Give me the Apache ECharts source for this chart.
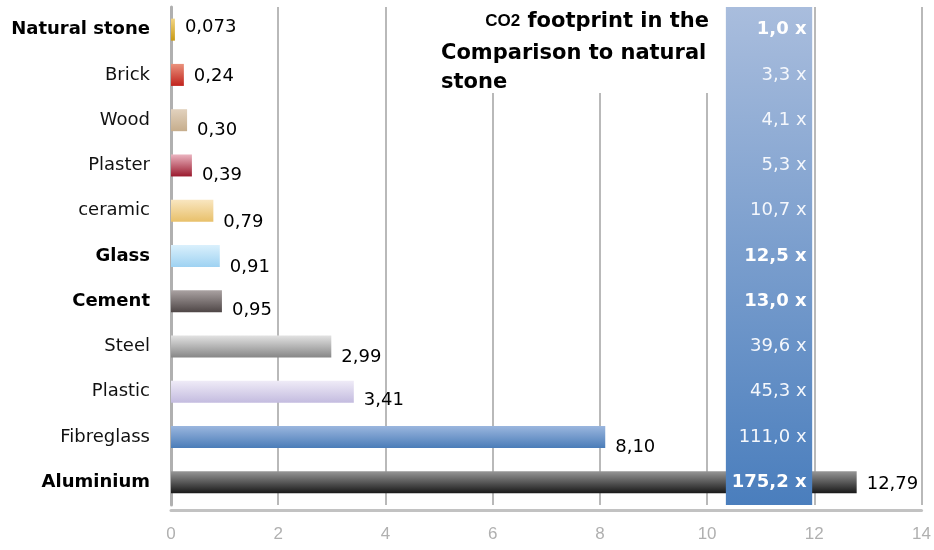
<!DOCTYPE html>
<html>
<head>
<meta charset="utf-8">
<script src="https://cdn.jsdelivr.net/npm/echarts@6/dist/echarts.min.js"></script>
<style>
  html, body { margin: 0; padding: 0; background: #fff; }
  #main { width: 934px; height: 550px; }
</style>
</head>
<body>
<div id="main"></div>
<script>
// data (kg CO2 per kg, top to bottom)
var materials = ['Natural stone', 'Brick', 'Wood', 'Plaster', 'ceramic', 'Glass', 'Cement', 'Steel', 'Plastic', 'Fibreglass', 'Aluminium'];
var footprint = [0.073, 0.24, 0.30, 0.39, 0.79, 0.91, 0.95, 2.99, 3.41, 8.10, 12.79];
var ratioLabels = ['1,0 x', '3,3 x', '4,1 x', '5,3 x', '10,7 x', '12,5 x', '13,0 x', '39,6 x', '45,3 x', '111,0 x', '175,2 x'];
var boldRows = ['Natural stone', 'Glass', 'Cement', 'Aluminium'];
var xTicks = [0, 2, 4, 6, 8, 10, 12, 14];

// styling per bar: [top colour, bottom colour]
var barColors = [
  ['#f2d584', '#c99a12'],
  ['#ea927c', '#c0221c'],
  ['#e2d2be', '#c6ad8c'],
  ['#ebb4c0', '#9a1a2e'],
  ['#f9e6c0', '#e8c06a'],
  ['#daf0fc', '#9ed2f2'],
  ['#aaa2a2', '#4e4646'],
  ['#e2e2e2', '#868686'],
  ['#efebf7', '#c3bbdf'],
  ['#9ab6de', '#4a7cb8'],
  ['#969696', '#181818']
];
var labelDrop = [-2, 1, 10, 10, 12, 11, 9, 11, 9, 10, 2];

var font = '"DejaVu Sans", "Noto Sans", sans-serif';

function fmt(v) {
  return v.toFixed(v < 0.1 ? 3 : 2).replace('.', ',');
}

function grad(c) {
  return new echarts.graphic.LinearGradient(0, 0, 0, 1, [
    { offset: 0, color: c[0] }, { offset: 1, color: c[1] }
  ]);
}

var chart = echarts.init(document.getElementById('main'));

chart.setOption({
  animation: false,
  textStyle: { fontFamily: font },
  grid: { left: 171, right: 11, top: 7, bottom: 45 },
  xAxis: {
    type: 'value',
    min: xTicks[0],
    max: xTicks[xTicks.length - 1],
    interval: 2,
    offset: 5,
    axisLine: { show: true, lineStyle: { color: '#c2c2c2', width: 3 } },
    axisTick: { show: false },
    axisLabel: { color: '#b0b0b0', fontSize: 17, margin: 16, fontFamily: '"Liberation Sans Narrow", "Liberation Sans", sans-serif' },
    splitLine: { show: true, lineStyle: { color: '#b9b9b9', width: 2 } }
  },
  yAxis: [{
    type: 'category',
    inverse: true,
    data: materials,
    axisLine: { show: true, lineStyle: { color: '#b0b0b0', width: 3 } },
    axisTick: { show: false },
    axisLabel: {
      color: '#111',
      fontSize: 18,
      margin: 21,
      formatter: function (v) {
        return boldRows.indexOf(v) >= 0 ? '{b|' + v + '}' : v;
      },
      rich: { b: { fontWeight: 'bold', fontSize: 18, color: '#000' } }
    }
  }, {
    type: 'category',
    inverse: true,
    position: 'right',
    data: materials,
    z: 10,
    axisLine: { show: false },
    axisTick: { show: false },
    axisLabel: {
      inside: true,
      margin: 115,
      color: '#f4f7fc',
      fontSize: 18,
      formatter: function (v, i) {
        return boldRows.indexOf(v) >= 0 ? '{b|' + ratioLabels[i] + '}' : ratioLabels[i];
      },
      rich: { b: { fontWeight: 'bold', fontSize: 18, color: '#ffffff' } }
    }
  }],
  graphic: [{
    type: 'rect',
    z: 1,
    shape: { x: 436, y: 0, width: 276, height: 93 },
    style: { fill: '#fff' }
  }, {
    type: 'text',
    z: 2,
    right: 934 - 709,
    top: 11,
    style: {
      text: '{s|CO2} footprint in the',
      font: 'bold 21px ' + font,
      fill: '#000',
      rich: { s: { fontSize: 17, fontWeight: 'bold', fill: '#000' } }
    }
  }, {
    type: 'text',
    z: 2,
    left: 441,
    top: 39,
    style: {
      text: 'Comparison to natural\nstone',
      font: 'bold 21px ' + font,
      fill: '#000',
      lineHeight: 29
    }
  }],
  series: [{
    type: 'bar',
    barWidth: 22,
    data: footprint.map(function (v, i) {
      return {
        value: v,
        itemStyle: { color: grad(barColors[i]) },
        label: { offset: [0, labelDrop[i]] }
      };
    }),
    label: {
      show: true,
      position: 'right',
      distance: 10,
      color: '#000',
      fontSize: 18,
      formatter: function (p) { return fmt(p.value); }
    },
    markArea: {
      silent: true,
      z: 5,
      itemStyle: {
        color: new echarts.graphic.LinearGradient(0, 0, 0, 1, [
          { offset: 0, color: '#a9bddd' }, { offset: 1, color: '#4a7ebd' }
        ])
      },
      data: [[{ xAxis: 10.35 }, { xAxis: 11.96 }]]
    }
  }]
});
</script>
</body>
</html>
